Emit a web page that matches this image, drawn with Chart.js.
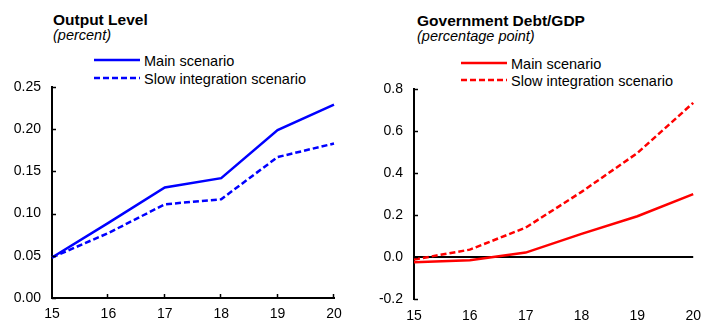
<!DOCTYPE html>
<html>
<head>
<meta charset="utf-8">
<script src="https://cdn.jsdelivr.net/npm/chart.js@4"></script>
<style>
  body { margin: 0; background: #fff; width: 710px; height: 324px; position: relative; overflow: hidden;
         font-family: "Liberation Sans", Arial, sans-serif; color: #000; }
  canvas { position: absolute; top: 0; }
  .titulo { position: absolute; font-weight: bold; font-size: 15.5px; line-height: 15.5px; white-space: nowrap; }
  .sub { position: absolute; font-style: italic; font-size: 14.5px; line-height: 14.5px; white-space: nowrap; }
  .leyenda { position: absolute; font-size: 14.5px; line-height: 14.5px; white-space: nowrap; }
  .leyenda svg { position: absolute; left: 0; }
  .leyenda span { position: absolute; }
</style>
</head>
<body>
<div class="titulo" style="left:53px; top:12px;">Output Level</div>
<div class="sub" style="left:53px; top:27.5px;">(percent)</div>
<div class="titulo" style="left:417px; top:13px;">Government Debt/GDP</div>
<div class="sub" style="left:417px; top:29px;">(percentage point)</div>
<div class="leyenda" id="leyenda1" style="left:94px; top:0;"></div>
<div class="leyenda" id="leyenda2" style="left:461px; top:0;"></div>
<canvas id="grafico1" width="355" height="324" style="left:0;"></canvas>
<canvas id="grafico2" width="355" height="324" style="left:355px;"></canvas>
<script>
// datos
const years = ['15', '16', '17', '18', '19', '20'];
const seriesNames = ['Main scenario', 'Slow integration scenario'];

const outputMain = [0.048, 0.089, 0.131, 0.142, 0.199, 0.229];
const outputSlow = [0.048, 0.077, 0.111, 0.117, 0.167, 0.183];

const debtMain = [-0.025, -0.016, 0.021, 0.110, 0.194, 0.299];
const debtSlow = [-0.012, 0.035, 0.140, 0.310, 0.495, 0.734];

const outputTicks = { min: 0, max: 0.25, step: 0.05, decimals: 2 };
const debtTicks = { min: -0.2, max: 0.8, step: 0.2, decimals: 1 };

// marcas pequenas hacia dentro en los ejes
const marcasInternas = {
    id: 'marcasInternas',
    afterDatasetsDraw(chart, args, opts) {
        const { ctx, chartArea, scales } = chart;
        ctx.save();
        ctx.strokeStyle = '#000';
        ctx.lineWidth = 1.5;
        scales.y.ticks.forEach((t, i) => {
            const y = Math.round(scales.y.getPixelForTick(i)) + 0.5;
            ctx.beginPath();
            ctx.moveTo(chartArea.left, y);
            ctx.lineTo(chartArea.left + 4, y);
            ctx.stroke();
        });
        if (opts.xTicks) {
            scales.x.ticks.forEach((t, i) => {
                if (i === 0) return;
                const x = Math.round(scales.x.getPixelForTick(i)) - 0.5;
                ctx.beginPath();
                ctx.moveTo(x, chartArea.bottom);
                ctx.lineTo(x, chartArea.bottom - 4);
                ctx.stroke();
            });
        }
        ctx.restore();
    }
};

function agregarLeyenda(id, color, filaY) {
    const cont = document.getElementById(id);
    seriesNames.forEach((nombre, i) => {
        const y = filaY[i];
        const svg = document.createElementNS('http://www.w3.org/2000/svg', 'svg');
        svg.setAttribute('width', '46');
        svg.setAttribute('height', '6');
        svg.style.top = (y - 3) + 'px';
        const linea = document.createElementNS('http://www.w3.org/2000/svg', 'line');
        linea.setAttribute('x1', '0');
        linea.setAttribute('x2', '46');
        linea.setAttribute('y1', '3');
        linea.setAttribute('y2', '3');
        linea.setAttribute('stroke', color);
        linea.setAttribute('stroke-width', '2.5');
        if (i === 1) linea.setAttribute('stroke-dasharray', '6 3');
        svg.appendChild(linea);
        cont.appendChild(svg);
        const texto = document.createElement('span');
        texto.textContent = nombre;
        texto.style.left = '50px';
        texto.style.top = (y - 5.5) + 'px';
        cont.appendChild(texto);
    });
}

agregarLeyenda('leyenda1', '#0000ff', [59.5, 77.5]);
agregarLeyenda('leyenda2', '#ff0000', [62.5, 79.5]);

function crearGrafico(canvasId, main, slow, color, rango, medidas) {
    const ctx = document.getElementById(canvasId).getContext('2d');
    return new Chart(ctx, {
        type: 'line',
        data: {
            labels: years,
            datasets: [{
                label: seriesNames[0],
                data: main,
                borderColor: color,
                borderWidth: 2.5,
                pointRadius: 0,
                tension: 0
            }, {
                label: seriesNames[1],
                data: slow,
                borderColor: color,
                borderWidth: 2.5,
                borderDash: [6, 3],
                pointRadius: 0,
                tension: 0
            }]
        },
        options: {
            responsive: false,
            animation: false,
            layout: { padding: { top: medidas.top, right: medidas.right, left: 0, bottom: 0 } },
            plugins: {
                legend: { display: false },
                tooltip: { enabled: false },
                marcasInternas: { xTicks: medidas.xAxis }
            },
            scales: {
                x: {
                    type: 'category',
                    offset: false,
                    afterFit: s => { s.height = medidas.bottom; },
                    grid: { display: false, drawTicks: false },
                    border: { display: medidas.xAxis, color: '#000', width: 2 },
                    ticks: {
                        color: '#000',
                        font: { family: 'Liberation Sans', size: 14 },
                        padding: medidas.xPad,
                        maxRotation: 0
                    }
                },
                y: {
                    min: rango.min,
                    max: rango.max,
                    afterFit: s => { s.width = medidas.left; },
                    grid: {
                        drawTicks: false,
                        lineWidth: 2,
                        color: c => (medidas.zeroLine && c.tick && Math.abs(c.tick.value) < 1e-9) ? '#000' : 'rgba(0,0,0,0)'
                    },
                    border: { display: true, color: '#000', width: 2 },
                    ticks: {
                        stepSize: rango.step,
                        color: '#000',
                        font: { family: 'Liberation Sans', size: 14 },
                        padding: 11,
                        callback: v => Number(v).toFixed(rango.decimals)
                    }
                }
            }
        },
        plugins: [marcasInternas]
    });
}

crearGrafico('grafico1', outputMain, outputSlow, '#0000ff', outputTicks,
    { top: 87, right: 21, left: 52, bottom: 26, xPad: 8, xAxis: true, zeroLine: false });
crearGrafico('grafico2', debtMain, debtSlow, '#ff0000', debtTicks,
    { top: 89, right: 12, left: 59, bottom: 25, xPad: 9, xAxis: false, zeroLine: true });
</script>
</body>
</html>
